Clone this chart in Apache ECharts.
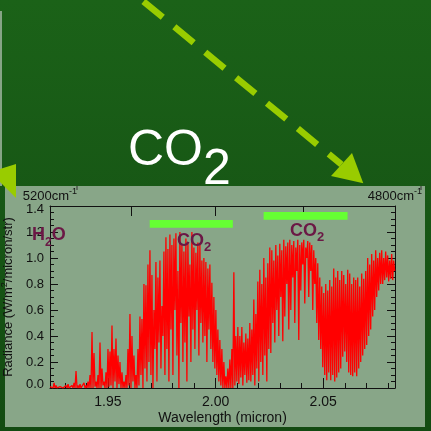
<!DOCTYPE html>
<html><head><meta charset="utf-8">
<script src="https://cdn.jsdelivr.net/npm/echarts@6/dist/echarts.min.js"></script>
<style>html,body{margin:0;padding:0;background:#155515;}#c{width:431px;height:431px;}</style>
</head><body><div id="c"></div>
<script>
// Wavenumber range shown (cm-1) and wavenumber tick marks on the top axis
const wavenumberEnds = [5200, 4800];
const wavenumberTicks = [5100, 5000, 4900];
// Wavelength axis (micron)
const wavelengthTicks = [1.95, 2.00, 2.05];
const wavelengthMinorTicks = [1.93, 1.94, 1.96, 1.97, 1.98, 1.99, 2.01, 2.02, 2.03, 2.04, 2.06, 2.07, 2.08];
// Spectrum samples: start wavelength and sample spacing (micron)
const wavelengthStart = 1.9231;
const wavelengthStep = 0.000464;
// Radiance (W/m2/micron/str)
const radiance = [
0.01,0, 0.02,0, 0.04,0, 0.02,0, 0.01,0, 0.01,0, 0.02,0, 0.01,0, 0.02,0, 0.03,0,
0.01,0, 0.02,0, 0.04,0, 0.13,0, 0.02,0, 0.03,0, 0.01,0, 0.04,0, 0.02,0, 0.05,0,
0.10,0, 0.43,0, 0.27,0.01, 0.05,0, 0.10,0, 0.35,0, 0.15,0.02, 0.05,0, 0.12,0, 0.30,0.01,
0.28,0.02, 0.48,0, 0.30,0.05, 0.38,0, 0.25,0.03, 0.20,0, 0.12,0, 0.05,0, 0.10,0, 0.30,0.02,
0.57,0, 0.40,0.05, 0.25,0, 0.10,0, 0.30,0.02, 0.55,0.10, 0.53,0, 0.80,0.15, 0.79,0.05, 0.95,0.20,
1.06,0.10, 0.87,0, 0.60,0.30, 0.97,0.05, 0.85,0.35, 0.98,0.15, 0.63,0.40, 1.05,0.10, 1.16,0.30, 1.07,0.05,
1.18,0.45, 1.10,0.10, 1.15,0.60, 1.19,0.25, 0.90,0, 1.20,0.50, 1.10,0.20, 1.05,0.35, 1.15,0.05, 1.12,0.55,
0.95,0.20, 1.20,0.45, 1.08,0.30, 1.04,0.60, 1.12,0.25, 1.10,0.50, 0.98,0.35, 1.00,0.40, 0.97,0.20, 0.92,0.45,
0.95,0.30, 0.81,0.20, 0.70,0.15, 0.60,0.10, 0.45,0.05, 0.37,0.02, 0.30,0, 0.20,0, 0.09,0, 0.15,0,
0.22,0, 0.30,0, 0.89,0.02, 0.40,0.05, 0.47,0.03, 0.40,0.08, 0.47,0.02, 0.35,0.10, 0.42,0.04, 0.38,0.06,
0.50,0.05, 0.45,0.10, 0.68,0.02, 0.57,0.15, 0.82,0.05, 0.91,0.20, 0.80,0.10, 1.00,0.25, 0.85,0.05, 0.96,0.30,
1.08,0.27, 1.06,0.50, 0.98,0.35, 1.10,0.60, 1.02,0.40, 1.11,0.70, 1.06,0.36, 1.14,0.55, 1.09,0.80, 1.12,0.45,
1.14,0.60, 1.10,0.85, 1.13,0.50, 1.08,0.90, 1.14,0.37, 1.10,0.75, 1.12,0.95, 1.14,0.65, 1.08,1.00, 1.13,0.70,
1.12,0.90, 1.10,0.60, 1.06,0.80, 1.00,0.50, 0.96,0.37, 0.85,0.30, 0.78,0.16, 0.73,0.10, 0.80,0.06, 0.75,0.12,
0.83,0.06, 0.78,0.10, 0.92,0.05, 0.85,0.08, 0.90,0.12, 0.83,0.15, 0.90,0.24, 0.87,0.28, 0.80,0.20, 0.91,0.12,
0.88,0.10, 0.80,0.09, 0.85,0.12, 0.83,0.09, 0.85,0.15, 0.78,0.20, 0.88,0.25, 0.84,0.30, 0.90,0.33, 1.00,0.40,
0.95,0.45, 1.03,0.55, 0.98,0.60, 1.06,0.70, 1.00,0.75, 1.04,0.80, 1.06,0.80, 1.00,0.83, 1.05,0.85, 1.02,0.82,
0.98,0.84, 1.03,0.83, 0.98,0.90
];
// CO2 band markers: [start, end] wavelength (micron)
const co2Bands = [[1.9694, 2.0080], [2.0223, 2.0613]];
const co2BandLevels = [[1.233, 1.292], [1.295, 1.354]];

const FONT = "'Liberation Sans', Arial, Helvetica, sans-serif";
const xMin = 1e4 / wavenumberEnds[0];
const xMax = 1e4 / wavenumberEnds[1];
const seriesData = radiance.map((v, i) => [wavelengthStart + i * wavelengthStep, v]);

const chart = echarts.init(document.getElementById('c'), null, {renderer: 'canvas'});
const axisColor = '#111';
const yCommon = {
  type: 'value', min: 0, max: 1.4, interval: 0.2,
  axisLine: {show: true, lineStyle: {color: axisColor, width: 1}},
  axisTick: {show: true, inside: true, length: 8, lineStyle: {color: axisColor}},
  minorTick: {show: true, splitNumber: 4, length: 4, lineStyle: {color: axisColor}},
  splitLine: {show: false}
};
chart.setOption({
  animation: false,
  backgroundColor: {type: 'linear', x: 0, y: 0, x2: 0, y2: 1, colorStops: [
    {offset: 0, color: '#1b6218'}, {offset: 1, color: '#134b12'}]},
  grid: {left: 50, top: 206, width: 345, height: 182, containLabel: false, outerBoundsMode: 'none'},
  xAxis: [
    {
      type: 'value', position: 'bottom', min: xMin, max: xMax,
      axisLine: {show: true, onZero: false, lineStyle: {color: axisColor, width: 1}},
      axisTick: {show: true, inside: true, length: 5, customValues: wavelengthMinorTicks, lineStyle: {color: axisColor}},
      axisLabel: {customValues: wavelengthTicks, formatter: v => v.toFixed(2), color: axisColor, fontSize: 14, margin: 7, fontFamily: FONT},
      splitLine: {show: false},
      name: 'Wavelength (micron)', nameLocation: 'middle', nameGap: 23,
      nameTextStyle: {color: axisColor, fontSize: 14, fontFamily: FONT}
    },
    {
      type: 'value', position: 'bottom', min: xMin, max: xMax,
      axisLine: {show: false, onZero: false},
      axisTick: {show: true, inside: true, length: 10, customValues: wavelengthTicks, lineStyle: {color: axisColor}},
      axisLabel: {show: false}, splitLine: {show: false}
    },
    {
      type: 'value', position: 'top', min: xMin, max: xMax,
      axisLine: {show: true, onZero: false, lineStyle: {color: axisColor, width: 1}},
      axisTick: {show: true, inside: true, length: 10, customValues: wavenumberTicks.map(k => 1e4 / k), lineStyle: {color: axisColor}},
      axisLabel: {
        customValues: [xMin, xMax], margin: 3, showMinLabel: true, showMaxLabel: true,
        formatter: v => '{b|' + Math.round(1e4 / v) + 'cm}{sup|-1}',
        rich: {
          b: {fontSize: 13, color: axisColor, fontFamily: FONT, verticalAlign: 'bottom'},
          sup: {fontSize: 9, color: axisColor, fontFamily: FONT, verticalAlign: 'bottom', padding: [0, 0, 7, 0]}
        }
      },
      splitLine: {show: false}
    }
  ],
  yAxis: [
    Object.assign({}, yCommon, {
      position: 'left',
      axisLabel: {
        color: axisColor, fontSize: 13, margin: 6, fontFamily: FONT,
        formatter: v => v === 0 ? '{lo|0.0}' : (v > 1.39 ? '{hi|1.4}' : '{n|' + v.toFixed(1) + '}'),
        rich: {
          n: {fontSize: 13, color: axisColor, fontFamily: FONT},
          lo: {fontSize: 13, color: axisColor, fontFamily: FONT, padding: [0, 0, 8, 0]},
          hi: {fontSize: 13, color: axisColor, fontFamily: FONT, padding: [6, 0, 0, 0]}
        }
      },
      name: '{n|Radiance (W/m}{sup|2}{n|/micron/str)}', nameLocation: 'middle', nameGap: 27,
      nameTextStyle: {
        rich: {
          n: {fontSize: 13, color: axisColor, fontFamily: FONT, verticalAlign: 'bottom'},
          sup: {fontSize: 9, color: axisColor, fontFamily: FONT, verticalAlign: 'bottom', padding: [0, 0, 6, 0]}
        }
      }
    }),
    Object.assign({}, yCommon, {position: 'right', axisLabel: {show: false}})
  ],
  series: [{
    type: 'line', xAxisIndex: 0, yAxisIndex: 0, data: seriesData,
    showSymbol: false, symbol: 'none', clip: true,
    lineStyle: {color: '#ff0000', width: 1.3}, z: 3,
    markArea: {
      silent: true,
      itemStyle: {color: '#66ff33', opacity: 1},
      data: co2Bands.map((b, i) => [{coord: [b[0], co2BandLevels[i][0]]}, {coord: [b[1], co2BandLevels[i][1]]}])
    }
  }],
  graphic: {elements: [
    {type: 'rect', silent: true, z: -10, shape: {x: 5, y: 186, width: 420, height: 241}, style: {fill: '#88a688'}},
    {type: 'rect', silent: true, z: -10, shape: {x: 0, y: 11, width: 2, height: 175}, style: {fill: '#86a486'}},
    {type: 'line', silent: true, z: -5, shape: {x1: 77, y1: 186, x2: 77, y2: 190}, style: {stroke: '#333', lineWidth: 1}},
    {type: 'line', silent: true, z: -5, shape: {x1: 421, y1: 186, x2: 421, y2: 190}, style: {stroke: '#333', lineWidth: 1}},
    {type: 'line', silent: true, z: 5, shape: {x1: 112.6, y1: -24, x2: 341.5, y2: 164.5},
      style: {stroke: '#99cc00', lineWidth: 6.5, lineDash: [25, 15]}},
    {type: 'polygon', silent: true, z: 5, shape: {points: [[352, 153], [331, 176], [363.3, 183.3]]}, style: {fill: '#99cc00'}},
    {type: 'polygon', silent: true, z: 5, shape: {points: [[16, 164], [16, 198], [-10, 172]]}, style: {fill: '#99cc00'}},
    {type: 'text', silent: true, z: 20, x: 128, y: 195, style: {
      text: '{a|CO}{s|2}', textVerticalAlign: 'bottom',
      rich: {
        a: {fontSize: 50, lineHeight: 50, fill: '#ffffff', fontFamily: FONT, verticalAlign: 'bottom', padding: [0, 0, 19, 0]},
        s: {fontSize: 50, lineHeight: 50, fill: '#ffffff', fontFamily: FONT, verticalAlign: 'bottom'}
      }}},
    {type: 'text', silent: true, z: 20, x: 32, y: 226, style: {
      text: '{a|H}{s|2}{a|O}',
      rich: {
        a: {fontSize: 18, fontWeight: 'bold', fill: '#6b1845', fontFamily: FONT, verticalAlign: 'bottom', padding: [0, 0, 5, 0]},
        s: {fontSize: 12, fontWeight: 'bold', fill: '#6b1845', fontFamily: FONT, verticalAlign: 'bottom'}
      }}},
    {type: 'text', silent: true, z: 20, x: 177, y: 232, style: {
      text: '{a|CO}{s|2}',
      rich: {
        a: {fontSize: 18, fontWeight: 'bold', fill: '#6b1845', fontFamily: FONT, verticalAlign: 'bottom', padding: [0, 0, 4, 0]},
        s: {fontSize: 13, fontWeight: 'bold', fill: '#6b1845', fontFamily: FONT, verticalAlign: 'bottom'}
      }}},
    {type: 'text', silent: true, z: 20, x: 290, y: 222, style: {
      text: '{a|CO}{s|2}',
      rich: {
        a: {fontSize: 18, fontWeight: 'bold', fill: '#6b1845', fontFamily: FONT, verticalAlign: 'bottom', padding: [0, 0, 4, 0]},
        s: {fontSize: 13, fontWeight: 'bold', fill: '#6b1845', fontFamily: FONT, verticalAlign: 'bottom'}
      }}}
  ]}
});
</script></body></html>
